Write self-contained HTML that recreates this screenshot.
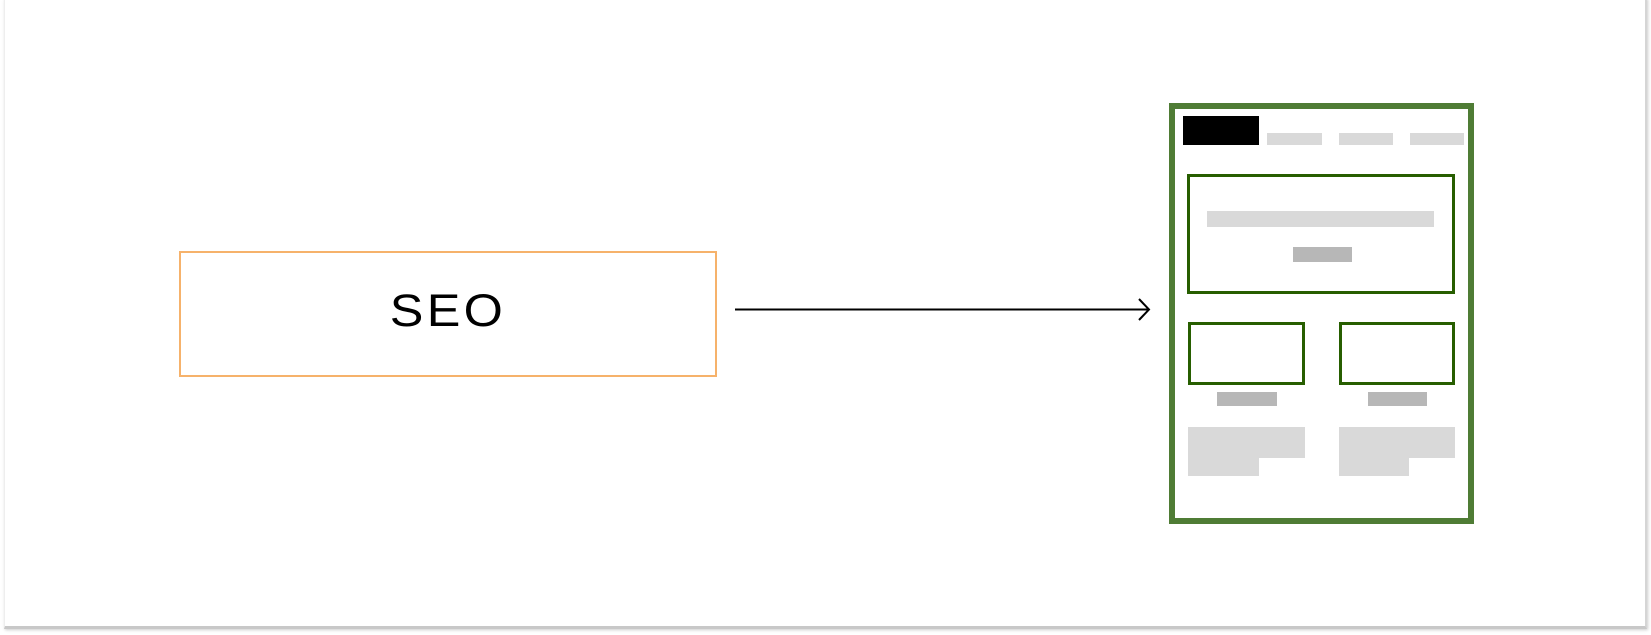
<!DOCTYPE html>
<html><head><style>
html,body{margin:0;padding:0;background:#fff;}
body{width:1651px;height:635px;position:relative;overflow:hidden;font-family:"Liberation Sans",sans-serif;}
.a{position:absolute;box-sizing:border-box;}
.g{background:#d9d9d9;}
.d{background:#b7b7b7;}
.gb{border:3px solid #275e00;}
</style></head><body>
<div class="a" style="left:4px;top:-2px;width:1643px;height:631px;border-right:2px solid #d5d5d5;border-bottom:3px solid #c8c8c8;border-left:1px solid #eee;box-shadow:1px 1px 3px #ccc;"></div>
<div class="a" style="left:179px;top:251px;width:538px;height:126px;border:2px solid #f6b26b;"></div>
<div class="a" style="left:179px;top:287px;width:538px;text-align:center;font-size:45px;line-height:48px;color:#000;letter-spacing:3px;transform:scaleX(1.12);">SEO</div>
<svg class="a" style="left:0;top:0" width="1651" height="635">
<line x1="735" y1="309.5" x2="1149" y2="309.5" stroke="#000" stroke-width="2"/>
<polyline points="1139,299 1149,309.5 1139,320" fill="none" stroke="#000" stroke-width="2"/>
</svg>
<div class="a" style="left:1169px;top:103px;width:305px;height:421px;border:6px solid #4f7c35;"></div>
<div class="a" style="left:1183px;top:116px;width:76px;height:29px;background:#000;"></div>
<div class="a g" style="left:1267px;top:133px;width:55px;height:12px;"></div>
<div class="a g" style="left:1339px;top:133px;width:54px;height:12px;"></div>
<div class="a g" style="left:1410px;top:133px;width:54px;height:12px;"></div>
<div class="a gb" style="left:1187px;top:174px;width:268px;height:120px;"></div>
<div class="a g" style="left:1207px;top:211px;width:227px;height:16px;"></div>
<div class="a d" style="left:1293px;top:247px;width:59px;height:15px;"></div>
<div class="a gb" style="left:1188px;top:322px;width:117px;height:63px;"></div>
<div class="a gb" style="left:1339px;top:322px;width:116px;height:63px;"></div>
<div class="a d" style="left:1217px;top:392px;width:60px;height:14px;"></div>
<div class="a d" style="left:1368px;top:392px;width:59px;height:14px;"></div>
<div class="a g" style="left:1188px;top:427px;width:117px;height:31px;"></div>
<div class="a g" style="left:1188px;top:457px;width:71px;height:19px;"></div>
<div class="a g" style="left:1339px;top:427px;width:116px;height:31px;"></div>
<div class="a g" style="left:1339px;top:457px;width:70px;height:19px;"></div>
</body></html>
